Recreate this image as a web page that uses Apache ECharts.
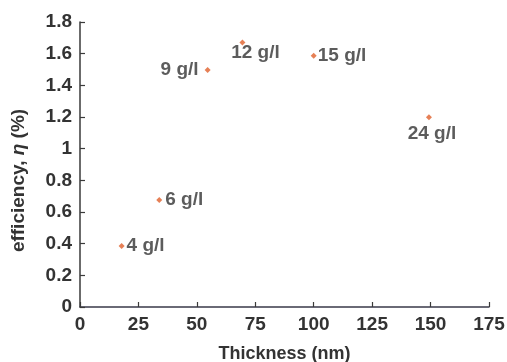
<!DOCTYPE html>
<html>
<head>
<meta charset="utf-8">
<script src="https://cdn.jsdelivr.net/npm/echarts@6/dist/echarts.min.js"></script>
<style>
  html, body { margin: 0; padding: 0; background: #fff; }
  #chart { width: 507px; height: 362px; }
</style>
</head>
<body>
<div id="chart"></div>
<script>
// Film thickness (nm) vs. efficiency (%) for each concentration
const concentrations = ['4 g/l', '6 g/l', '9 g/l', '12 g/l', '15 g/l', '24 g/l'];
const thickness = [17.8, 33.9, 54.6, 69.5, 100, 149.3];
const efficiency = [0.385, 0.676, 1.497, 1.67, 1.587, 1.198];
const xTicks = [0, 25, 50, 75, 100, 125, 150, 175];
const yTicks = [0, 0.2, 0.4, 0.6, 0.8, 1, 1.2, 1.4, 1.6, 1.8];

// Where each concentration label sits relative to its point
const labelPlacement = {
  '4 g/l':  { position: 'right', offset: [-3, 0] },
  '6 g/l':  { position: 'right', offset: [-2, 0] },
  '9 g/l':  { position: 'left',  offset: [-1, 0] },
  '12 g/l': { position: 'bottom', offset: [13, -7] },
  '15 g/l': { position: 'right', offset: [-4, 0] },
  '24 g/l': { position: 'bottom', offset: [3, -1] }
};

const textColor = '#333333';
const fontFamily = '"Liberation Sans", Arial, sans-serif';

const points = concentrations.map((c, i) => ({
  name: c,
  value: [thickness[i], efficiency[i]],
  label: Object.assign({ show: true, formatter: c }, labelPlacement[c])
}));

const chart = echarts.init(document.getElementById('chart'), null, { renderer: 'canvas' });
chart.setOption({
  animation: false,
  backgroundColor: '#ffffff',
  grid: { left: 80, right: 18, top: 22, bottom: 55, containLabel: false, outerBoundsMode: 'none' },
  xAxis: {
    type: 'value',
    min: xTicks[0],
    max: xTicks[xTicks.length - 1],
    interval: 25,
    name: 'Thickness (nm)',
    nameLocation: 'middle',
    nameGap: 38,
    nameTextStyle: { fontFamily, fontWeight: 'bold', fontSize: 18, color: textColor },
    axisLine: { lineStyle: { color: '#3a3a4a', width: 1.5 } },
    axisTick: { inside: true, length: 5, lineStyle: { color: '#3a3a3a', width: 1.2 } },
    axisLabel: {
      margin: 8, fontFamily, fontWeight: 'bold', fontSize: 19, color: textColor,
      customValues: xTicks
    },
    splitLine: { show: false }
  },
  yAxis: {
    type: 'value',
    min: yTicks[0],
    max: yTicks[yTicks.length - 1],
    interval: 0.2,
    name: '{t|efficiency, }{i|η}{t| (%)}',
    nameLocation: 'middle',
    nameGap: 52,
    nameTextStyle: {
      padding: [0, 32, 0, 0],
      rich: {
        t: { fontFamily, fontWeight: 'bold', fontSize: 19, color: textColor },
        i: { fontFamily, fontWeight: 'bold', fontStyle: 'italic', fontSize: 19, color: textColor }
      }
    },
    axisLine: { show: true, lineStyle: { color: '#3a3a3a', width: 1.5 } },
    axisTick: { show: true, inside: true, length: 5, lineStyle: { color: '#3a3a3a', width: 1.2 } },
    axisLabel: {
      margin: 8, fontFamily, fontWeight: 'bold', fontSize: 19, color: textColor,
      formatter: v => String(Math.round(v * 10) / 10)
    },
    splitLine: { show: false }
  },
  series: [{
    type: 'scatter',
    symbol: 'diamond',
    symbolSize: 6,
    itemStyle: { color: '#e0602c' },
    label: { fontFamily, fontWeight: 'bold', fontSize: 19, color: textColor, distance: 5 },
    data: points
  }]
});
</script>
</body>
</html>
